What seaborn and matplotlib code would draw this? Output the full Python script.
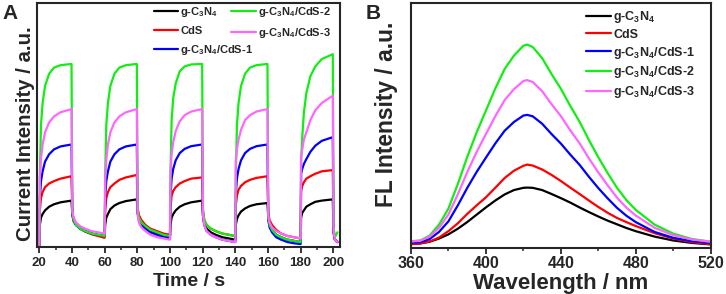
import numpy as np
import pandas as pd
import matplotlib.pyplot as plt
import seaborn as sns
from matplotlib.ticker import MultipleLocator

# Nombres de las muestras y colores
labels = ['g-C$_3$N$_4$', 'CdS', 'g-C$_3$N$_4$/CdS-1',
          'g-C$_3$N$_4$/CdS-2', 'g-C$_3$N$_4$/CdS-3']
colors = ['#000000', '#ff0000', '#0000ff', '#11ee11', '#ff66ff']

# Fotocorriente: tiempos de muestreo dentro de cada ciclo luz on/off de 40 s
cycle_offsets = [0, 0.3, 1, 2, 3.5, 6, 9, 13, 19.7, 20.2, 21, 22.5, 25, 28, 32, 36, 39.7]
cycle_starts = [20, 60, 100, 140, 180]
time_s = [s + o for s in cycle_starts for o in cycle_offsets if s + o <= 204]

cur_gcn = [0.5, 9, 12, 13.5, 15, 16.5, 17.5, 18.3, 19, 13, 10.5, 9, 7.5, 6.5, 5.5, 4.8, 4.3,
           4.3, 9, 12, 13.5, 15.5, 17, 18, 18.8, 19.5, 14, 11.5, 9.5, 8, 6.5, 5.5, 4.8, 4.3,
           4.3, 9, 12, 13.5, 15, 16.5, 17.5, 18.3, 19, 13, 9.5, 7.5, 6, 5, 4, 3.5, 3,
           3, 9, 11.5, 13, 14.5, 15.8, 16.8, 17.5, 18, 12, 9, 7, 5, 4, 3, 2.5, 2,
           2, 12, 14, 15, 16.5, 17.5, 18.5, 19, 19.5, 6, 3, 2]
cur_cds = [0.5, 15, 20, 22.5, 24.5, 26, 27, 28, 29, 14, 11, 9, 7.5, 6.3, 5.2, 4.5, 3.8,
           3.8, 15, 20, 22.5, 24.5, 26, 27.5, 28.5, 29.5, 16, 13, 11, 9, 7.5, 6.5, 5.5, 5,
           5, 16, 21, 23, 24.5, 26, 27, 28, 28.5, 15, 11, 9, 7.5, 6.5, 5.5, 5, 4.5,
           4.5, 17, 21, 23.5, 25, 26.5, 27.5, 28.3, 29, 14, 11, 9, 7, 5.5, 4.5, 4, 3.5,
           3.5, 23, 25, 26.5, 28, 29, 30, 31, 31.5, 6, 3, 2]
cur_cds1 = [0.5, 20, 27, 31, 35, 38, 40, 41.2, 42, 14, 11, 9, 7.5, 6.5, 5.5, 5, 4.5,
            4.5, 20, 27, 31, 35, 38, 40, 41.2, 42, 14, 11, 9, 7.5, 6, 5, 4, 3.5,
            3.5, 21, 28, 32, 35.5, 38.5, 40.2, 41.3, 42, 13, 9, 6.5, 5, 4, 3, 2.5, 2,
            2, 22, 28, 32, 35.5, 38.5, 40.2, 41.3, 42, 11, 8, 6, 4, 3, 2, 1.5, 1.2,
            1.2, 30, 32, 34, 36, 39, 41.5, 43.5, 45, 6, 3, 2]
cur_cds2 = [0.5, 29, 50, 59, 66, 71, 73.5, 74.5, 75, 14, 11, 9, 7.5, 6.5, 5.5, 5, 4.5,
            4.5, 29, 50, 59, 66, 71, 73.5, 74.5, 75, 15, 12, 10, 8.5, 7, 6, 5, 4.5,
            4.5, 30, 52, 61, 67, 72, 74, 74.8, 75, 15, 11, 9, 7.5, 6.5, 5.5, 5, 4.5,
            4.5, 29, 50, 59, 66, 71, 73.5, 74.5, 75, 12, 9, 7, 5, 4, 3, 2.5, 2,
            2, 35, 45, 55, 63, 70, 74, 77, 79, 8, 4, 6]
cur_cds3 = [0.5, 28, 36, 42, 47, 51, 53.5, 55.2, 56.5, 15, 12, 10, 8.5, 7.5, 6.5, 6, 5.5,
            5.5, 28, 36, 42, 47, 51, 53.5, 55.2, 56.5, 13, 10, 8, 6.5, 5, 4, 3.5, 3,
            3, 30, 38, 43, 47.5, 51.5, 54, 55.5, 56.5, 13, 9, 6.5, 5, 4, 3, 2.5, 2,
            2, 35, 40, 44, 48, 52, 54, 55.5, 56.5, 13, 10, 8, 6.5, 5.5, 4.5, 4, 3.5,
            3.5, 37, 40, 44, 47, 52, 56, 59, 62, 6, 3, 2]

# Espectros de fluorescencia
wavelength = [360, 365, 370, 375, 380, 385, 390, 395, 400, 405, 410, 415, 420, 422, 425,
              430, 435, 440, 445, 450, 455, 460, 465, 470, 475, 480, 490, 500, 510, 520]
fl_gcn = [1.5, 1.8, 2.5, 3.8, 5.5, 7.8, 10.5, 13.5, 16.5, 19.3, 21.8, 23.6, 24.5, 24.6, 24.5,
          23.6, 22, 20.3, 18.5, 16.5, 14.6, 12.8, 11.1, 9.6, 8.1, 6.8, 4.6, 3, 2, 1.4]
fl_cds = [1.5, 1.8, 2.6, 4.2, 6.8, 10, 13.8, 17.3, 20.6, 24.5, 28.5, 31.5, 33.5, 34, 33.6,
          32, 29.8, 27.3, 24.6, 22, 19.3, 16.7, 14.3, 12.2, 10.5, 8.9, 6, 3.8, 2.3, 1.5]
fl_cds1 = [2.1, 2.3, 3.6, 6.5, 10.8, 17.3, 24.4, 30.9, 36.8, 42.6, 47.8, 51.4, 54, 54.3, 53.7,
           50.7, 46.5, 42.6, 38.1, 33.9, 29, 24.4, 20.2, 16.3, 13.1, 10.5, 6.5, 4.1, 2.7, 2]
fl_cds2 = [2.7, 3, 5, 9.5, 16, 26, 37, 47, 56, 65, 73, 78.5, 82.5, 83, 82,
           77.5, 71, 65, 58, 51.5, 44, 37, 30.5, 24.5, 19.5, 15.5, 9.5, 5.8, 3.6, 2.5]
fl_cds3 = [2.6, 2.9, 4.6, 8.2, 13.6, 21.8, 30.8, 39, 46.4, 53.7, 60.3, 64.8, 68.1, 68.5, 67.7,
           64, 58.7, 53.8, 48, 42.7, 36.5, 30.8, 25.5, 20.5, 16.4, 13.2, 8.2, 5.2, 3.4, 2.5]

cur_series = [cur_gcn, cur_cds, cur_cds1, cur_cds2, cur_cds3]
fl_series = [fl_gcn, fl_cds, fl_cds1, fl_cds2, fl_cds3]

df_cur = pd.concat([pd.DataFrame({'t': time_s, 'I': v, 'muestra': n})
                    for n, v in zip(labels, cur_series)], ignore_index=True)
df_fl = pd.concat([pd.DataFrame({'wl': wavelength, 'I': v, 'muestra': n})
                   for n, v in zip(labels, fl_series)], ignore_index=True)

sns.set_style('ticks')
plt.rcParams['font.family'] = ['Liberation Sans', 'DejaVu Sans']
plt.rcParams['font.weight'] = 'bold'
plt.rcParams['mathtext.fontset'] = 'custom'
plt.rcParams['mathtext.rm'] = 'Liberation Sans:bold'
plt.rcParams['mathtext.it'] = 'Liberation Sans:bold'
plt.rcParams['mathtext.bf'] = 'Liberation Sans:bold'

palette = dict(zip(labels, colors))

fig = plt.figure(figsize=(7.26, 2.94), dpi=100)
axA = fig.add_axes([0.0515, 0.16, 0.417, 0.83])
axB = fig.add_axes([0.566, 0.157, 0.413, 0.833])

sns.lineplot(data=df_cur, x='t', y='I', hue='muestra', hue_order=labels, palette=palette,
             estimator=None, sort=False, linewidth=1.6, ax=axA)
sns.lineplot(data=df_fl, x='wl', y='I', hue='muestra', hue_order=labels, palette=palette,
             estimator=None, linewidth=1.6, ax=axB)

# Panel A
axA.set_xlim(18.8, 204.2)
axA.set_ylim(0, 100)
axA.xaxis.set_major_locator(MultipleLocator(20))
axA.xaxis.set_minor_locator(MultipleLocator(10))
axA.set_xlabel('Time / s', fontsize=14, fontweight='bold', labelpad=3)
axA.set_ylabel('Current Intensity / a.u.', fontsize=14.7, fontweight='bold')
axA.yaxis.set_label_coords(-0.008, 0.463)
h, l = axA.get_legend_handles_labels()
axA.get_legend().remove()
leg_opts = dict(frameon=False, fontsize=8, borderpad=0, borderaxespad=0,
                handlelength=2.2, handletextpad=0.2, labelspacing=0.6, loc='upper left')
leg1 = axA.legend(h[:3], l[:3], bbox_to_anchor=(0.384, 0.99), **leg_opts)
axA.add_artist(leg1)
axA.legend(h[3:], l[3:], bbox_to_anchor=(0.64, 0.99), **leg_opts)

# Panel B
axB.set_xlim(360, 520)
axB.set_ylim(0, 100)
axB.xaxis.set_major_locator(MultipleLocator(40))
axB.xaxis.set_minor_locator(MultipleLocator(20))
axB.set_xlabel('Wavelength / nm', fontsize=16, fontweight='bold', labelpad=1)
axB.set_ylabel('FL Intensity / a.u.', fontsize=16.4, fontweight='bold')
axB.yaxis.set_label_coords(-0.043, 0.547)
h, l = axB.get_legend_handles_labels()
axB.legend(h, l, loc='upper left', frameon=False, fontsize=9, borderpad=0,
           borderaxespad=0, handlelength=2.0, handletextpad=0.2,
           labelspacing=0.3, bbox_to_anchor=(0.583, 0.975))

for ax, fs, pd_ in [(axA, 9.5, 3), (axB, 11.5, 2)]:
    ax.set_yticks([])
    for s in ax.spines.values():
        s.set_visible(True)
        s.set_linewidth(1.5)
    ax.tick_params(axis='x', which='major', direction='out', length=4, width=1.3,
                   labelsize=fs, pad=pd_)
    ax.tick_params(axis='x', which='minor', direction='out', length=2.5, width=1.1)
    for t in ax.get_xticklabels():
        t.set_fontweight('bold')

fig.text(0.004, 0.985, 'A', fontsize=15, fontweight='bold', va='top', ha='left')
fig.text(0.503, 0.985, 'B', fontsize=15, fontweight='bold', va='top', ha='left')

fig.savefig('out.png', dpi=100)
